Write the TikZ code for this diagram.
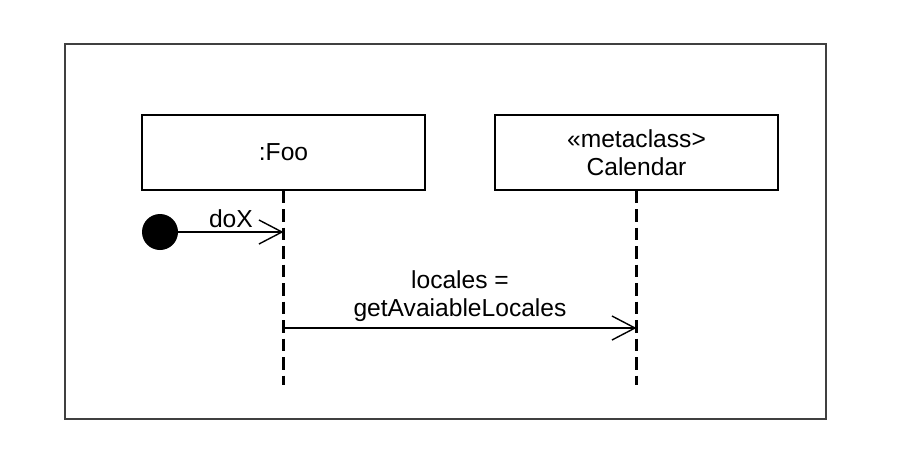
\documentclass[tikz,border=0pt]{standalone}
\usepackage{fontspec}
\setmainfont{Liberation Sans}
\usetikzlibrary{positioning,arrows.meta}
\tikzset{>={Straight Barb[length=4.6mm,width=4.8mm,line width=0.8pt]}}

\begin{document}
\begin{tikzpicture}[
    object/.style={
        draw=black,
        line width=0.8pt,
        minimum width=5.66cm,
        minimum height=1.5cm,
        align=center
        },
    lifeline/.style={draw=black, line width=1.4pt, dash pattern=on 2.5mm off 1.2mm},
    message/.style={draw=black, line width=0.8pt},
    font=\fontsize{14pt}{16pt}\selectfont
    ]
    \useasboundingbox (0,0) rectangle (18.14,-9.06);
    \draw[line width=1.1pt, draw=black!75] (1.3,-0.88) rectangle (16.52,-8.38);

    \begin{scope}[on grid]
    \node[object] (foo) at (5.67,-3.05) {:Foo};
    \node[object] (calendar) [right = 7.06cm of foo] {«metaclass>\\Calendar};
    \end{scope}
    \node[circle, fill=black, minimum size=0.72cm, inner sep=0pt] (start) at (3.2,-4.64) {};

    % lifelines
    \coordinate (foo end) at (foo.south |- 0,-7.7);
    \coordinate (calendar end) at (calendar.south |- 0,-7.7);
    \path[lifeline] (foo) -- (foo end);
    \path[lifeline] (calendar) -- (calendar end);

    % messages
    \coordinate (doX) at (foo.south |- start);
    \coordinate (call from) at (foo.south |- 0,-6.56);
    \coordinate (call to) at (calendar.south |- 0,-6.56);
    \draw[->, message] (start) -- node[above, inner sep=2pt] {doX} (doX);
    \draw[->, message] (call from) -- node[above, align=center, inner sep=3pt] {locales =\\getAvaiableLocales} (call to);
\end{tikzpicture}
\end{document}
